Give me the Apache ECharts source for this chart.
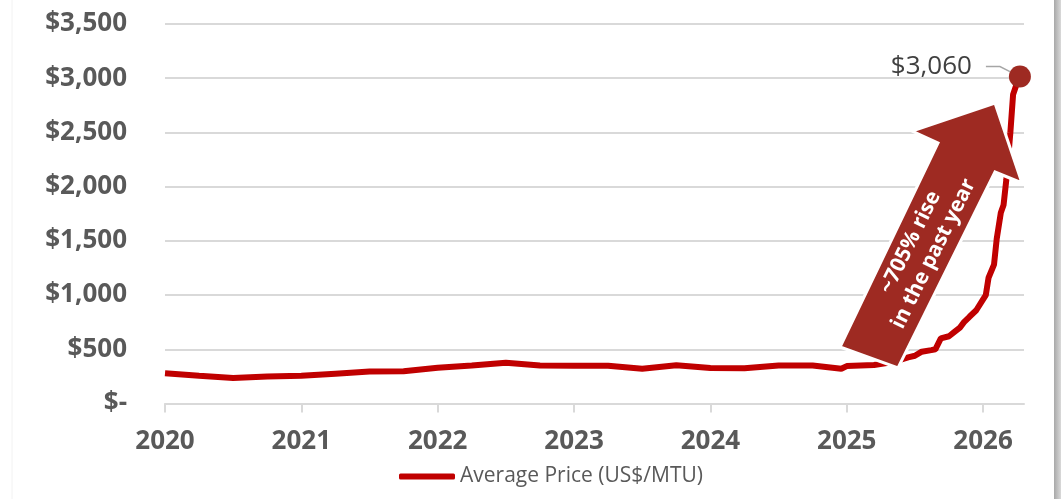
<!DOCTYPE html>
<html>
<head>
<meta charset="utf-8">
<title>Average Price</title>
<script src="https://cdn.jsdelivr.net/npm/echarts@6/dist/echarts.min.js"></script>
<style>
  html, body { margin: 0; padding: 0; background: #fff; }
  #main { width: 1061px; height: 499px; }
</style>
</head>
<body>
<div id="main"></div>
<script>
// decimal years and price (US$/MTU)
var years = [2020.0, 2020.25, 2020.5, 2020.75, 2021.0, 2021.25, 2021.5, 2021.75,
  2022.0, 2022.25, 2022.5, 2022.75, 2023.0, 2023.25, 2023.5, 2023.75,
  2024.0, 2024.25, 2024.5, 2024.75, 2024.96, 2025.0, 2025.2, 2025.35,
  2025.45, 2025.5, 2025.55, 2025.62, 2025.65, 2025.69, 2025.75, 2025.79,
  2025.83, 2025.86, 2025.9, 2025.95, 2026.0, 2026.02, 2026.04, 2026.08,
  2026.1, 2026.13, 2026.15, 2026.17, 2026.2, 2026.22, 2026.25, 2026.27];
var prices = [280, 255, 235, 250, 255, 275, 295, 297,
  330, 350, 375, 350, 348, 348, 320, 352,
  327, 325, 350, 350, 320, 345, 355, 385,
  425, 440, 478, 492, 500, 600, 620, 660,
  700, 750, 800, 860, 960, 1000, 1160, 1280,
  1520, 1760, 1830, 2060, 2500, 2850, 2960, 3015];
var yearTicks = [2020, 2021, 2022, 2023, 2024, 2025, 2026];
var lastLabel = '$3,060';
var arrowText = '~705% rise\nin the past year';

var seriesData = years.map(function (y, i) { return [y, prices[i]]; });
var last = seriesData[seriesData.length - 1];

var chart = echarts.init(document.getElementById('main'), null, { renderer: 'canvas' });

function money(v) {
  if (v === 0) return '$-';
  return '$' + String(v).replace(/\B(?=(\d{3})+(?!\d))/g, ',');
}

var option = {
  backgroundColor: '#fff',
  animation: false,
  grid: { left: 165, right: 37, top: 24, bottom: 95.5 },
  xAxis: {
    type: 'value',
    min: 2020,
    max: 2026.3,
    interval: 1,
    splitLine: { show: false },
    axisLine: { lineStyle: { color: '#d9d9d9', width: 2 } },
    axisTick: { show: true, length: 9, lineStyle: { color: '#d9d9d9', width: 2 } },
    axisLabel: {
      margin: 25,
      showMaxLabel: false,
      color: '#595959',
      fontFamily: 'Open Sans',
      fontWeight: 'bold',
      fontSize: 26,
      formatter: function (v) { return yearTicks.indexOf(v) >= 0 ? String(v) : ''; }
    }
  },
  yAxis: {
    type: 'value',
    min: 0,
    max: 3500,
    interval: 500,
    axisLine: { show: false },
    axisTick: { show: false },
    splitLine: { lineStyle: { color: '#d9d9d9', width: 2 } },
    axisLabel: {
      margin: 38,
      color: '#595959',
      fontFamily: 'Open Sans',
      fontWeight: 'bold',
      fontSize: 26,
      formatter: money
    }
  },
  legend: {
    left: 394,
    top: 461,
    icon: 'roundRect',
    itemWidth: 56,
    itemHeight: 6,
    itemGap: 5,
    textStyle: { color: '#595959', fontFamily: 'Open Sans', fontSize: 21 },
    data: ['Average Price (US$/MTU)']
  },
  series: [{
    name: 'Average Price (US$/MTU)',
    type: 'line',
    data: seriesData,
    symbol: 'none',
    lineStyle: { color: '#C00000', width: 6 },
    itemStyle: { color: '#C00000' },
    z: 2,
    markPoint: {
      symbol: 'circle',
      symbolSize: 22,
      itemStyle: { color: '#9E2A22' },
      label: {
        show: true,
        position: 'left',
        distance: 37,
        offset: [0, -10],
        color: '#404040',
        fontFamily: 'Open Sans',
        fontSize: 26,
        formatter: lastLabel
      },
      data: [{ coord: last }]
    }
  }]
};

chart.setOption(option);

// leader line from label to the dot, arrow annotation
var p = chart.convertToPixel({ gridIndex: 0 }, last);
chart.setOption({
  graphic: [
    {
      type: 'polyline',
      z: 5,
      shape: { points: [[p[0] - 34, p[1] - 10], [p[0] - 20, p[1] - 10], [p[0] - 10, p[1] - 5]] },
      style: { stroke: '#a6a6a6', lineWidth: 1.5, fill: null }
    },
    {
      type: 'polygon',
      z: 10,
      shape: {
        points: [[840, 347], [898, 368], [995, 172], [1022, 183], [995, 103], [912, 131], [938, 143]]
      },
      style: { fill: '#9E2A22', stroke: '#fff', lineWidth: 3 }
    },
    {
      type: 'text',
      z: 11,
      x: 922,
      y: 248,
      rotation: 63.6 * Math.PI / 180,
      style: {
        text: arrowText,
        fill: '#fff',
        font: 'bold 21px "Open Sans"',
        textAlign: 'center',
        textVerticalAlign: 'middle',
        lineHeight: 26
      }
    },
    {
      type: 'rect',
      z: 1,
      shape: { x: 1054, y: 0, width: 7, height: 499 },
      style: {
        fill: new echarts.graphic.LinearGradient(0, 0, 1, 0, [
          { offset: 0, color: '#a8a8a8' },
          { offset: 1, color: '#d9d9d9' }
        ])
      }
    },
    {
      type: 'line',
      z: 1,
      shape: { x1: 12, y1: 0, x2: 12, y2: 499 },
      style: { stroke: '#f2f2f2', lineWidth: 1 }
    }
  ]
});
</script>
</body>
</html>
